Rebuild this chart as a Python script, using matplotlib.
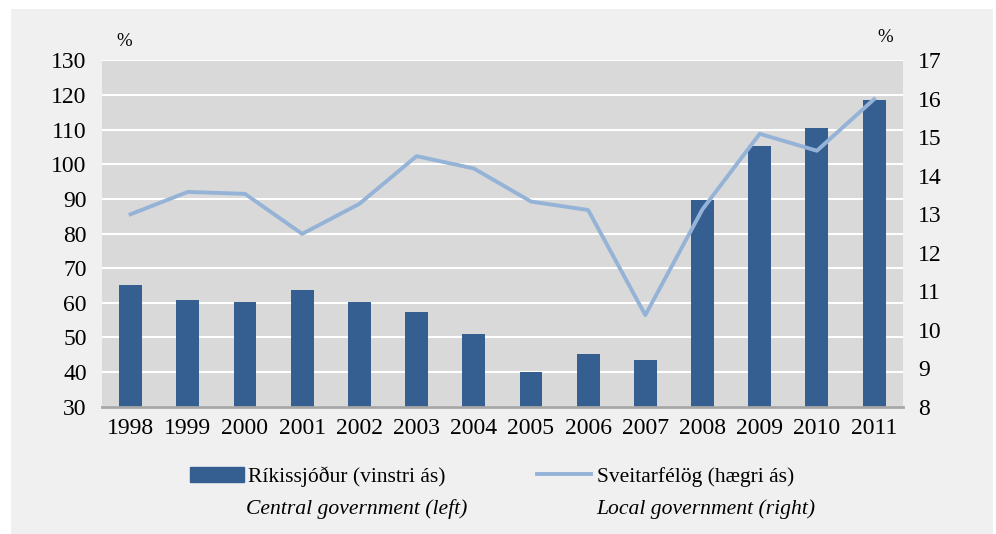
import matplotlib.pyplot as plt
import matplotlib.patches as mpatches
from matplotlib.lines import Line2D
import numpy as np

plt.rcParams['font.family'] = ['Liberation Serif', 'DejaVu Serif']

years = ['1998', '1999', '2000', '2001', '2002', '2003', '2004',
         '2005', '2006', '2007', '2008', '2009', '2010', '2011']
rikissjodur = [65.0, 60.8, 60.2, 63.7, 60.2, 57.3, 51.1,
               40.1, 45.3, 43.6, 89.7, 105.3, 110.4, 118.5]
sveitarfelog = [13.0, 13.58, 13.53, 12.49, 13.27, 14.51, 14.19,
                13.33, 13.11, 10.38, 13.13, 15.09, 14.65, 15.99]

bar_col = '#365f91'
line_col = '#95b3d7'

W, H = 996, 534
fig = plt.figure(figsize=(W / 100, H / 100), dpi=100)
fig.patch.set_facecolor('white')
# light grey panel behind everything
fig.patches.append(mpatches.Rectangle((11 / W, 0), (993 - 11) / W, (534 - 9) / H,
                                      transform=fig.transFigure, facecolor='#f0f0f0',
                                      edgecolor='none', zorder=-10))

ax = fig.add_axes([102 / W, (H - 406.7) / H, 800.7 / W, 346.4 / H])
ax.set_facecolor('#d9d9d9')
x = np.arange(len(years))
ax.bar(x, rikissjodur, width=0.4, color=bar_col, zorder=2)
ax.set_ylim(30, 130)
ax.set_yticks(range(30, 131, 10))
ax.set_xlim(-0.5, len(years) - 0.5)
ax.set_xticks(x)
ax.set_xticklabels(years)
ax.yaxis.grid(True, color='white', linewidth=1.5, zorder=1)
ax.set_axisbelow(True)
for s in ['top', 'right', 'left']:
    ax.spines[s].set_visible(False)
ax.spines['bottom'].set_color('#a6a6a6')
ax.spines['bottom'].set_linewidth(2)
ax.tick_params(axis='y', length=0, labelsize=17, pad=11)
ax.tick_params(axis='x', length=0, labelsize=17, pad=8)

ax2 = ax.twinx()
ax2.plot(x, sveitarfelog, color=line_col, linewidth=2.8, zorder=3)
ax2.set_ylim(8, 17)
ax2.set_yticks(range(8, 18))
for s in ['top', 'right', 'left', 'bottom']:
    ax2.spines[s].set_visible(False)
ax2.tick_params(axis='y', length=0, labelsize=17, pad=11)

fig.text(124 / W, 1 - 41 / H, '%', fontsize=13.5, ha='center', va='center')
fig.text(885 / W, 1 - 37 / H, '%', fontsize=13.5, ha='center', va='center')

h1 = mpatches.Patch(color=bar_col)
h2 = Line2D([], [], color=line_col, linewidth=2.8)
fig.legend([h1], ['Ríkissjóður (vinstri ás)'], loc='center left',
           bbox_to_anchor=(190 / W, 1 - 477 / H), frameon=False,
           fontsize=15.5, handlelength=2.5, handleheight=0.7,
           handletextpad=0.2, borderpad=0, borderaxespad=0)
fig.legend([h2], ['Sveitarfélög (hægri ás)'], loc='center left',
           bbox_to_anchor=(537 / W, 1 - 477 / H), frameon=False,
           fontsize=15.5, handlelength=2.5, handletextpad=0.3,
           borderpad=0, borderaxespad=0)
fig.text(246 / W, 1 - 509 / H, 'Central government (left)', fontsize=15.6,
         style='italic', va='center')
fig.text(596 / W, 1 - 509 / H, 'Local government (right)', fontsize=15.6,
         style='italic', va='center')

fig.savefig('out.png', dpi=100)
